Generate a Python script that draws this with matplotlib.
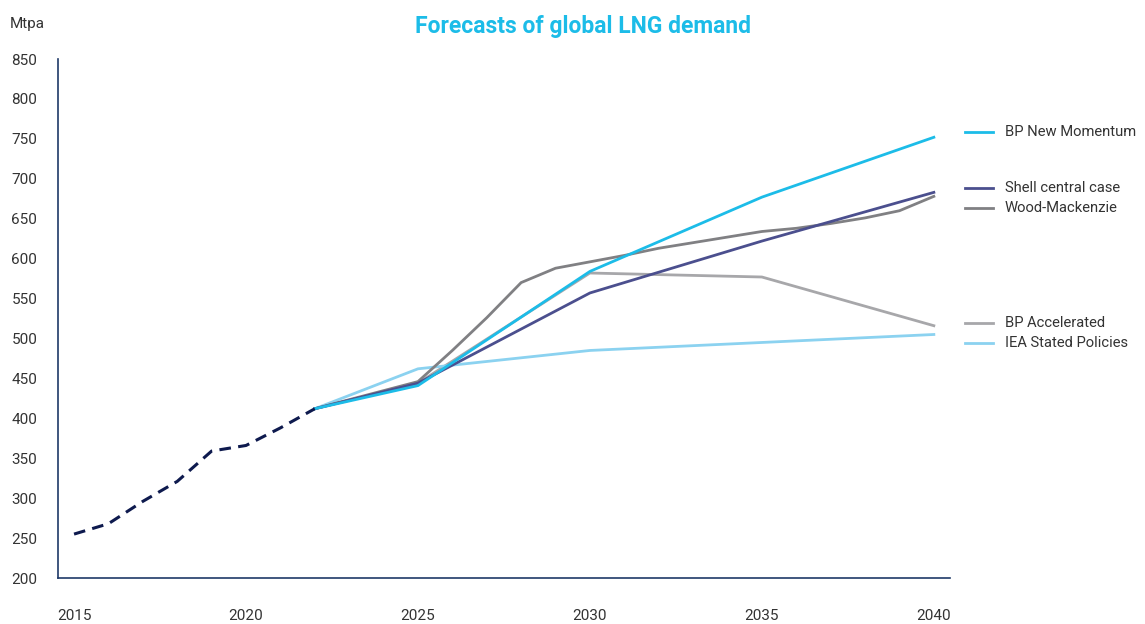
import numpy as np
import matplotlib.pyplot as plt
import matplotlib.transforms as mtransforms

plt.rcParams['font.family'] = ['Roboto', 'DejaVu Sans']

# historical demand (dashed)
hist_years = [2015, 2016, 2017, 2018, 2019, 2020, 2021, 2022]
hist_vals = [255, 268, 296, 321, 359, 366, 388, 412]

# forecasts
bp_nm_years = [2022, 2025, 2030, 2035, 2040]
bp_nm_vals = [412, 441, 584, 677, 752]

shell_years = [2022, 2025, 2030, 2035, 2040]
shell_vals = [412, 444, 557, 622, 683]

wm_years = [2022, 2025, 2026, 2027, 2028, 2029, 2030, 2031, 2032, 2033, 2034, 2035, 2036, 2037, 2038, 2039, 2040]
wm_vals = [412, 446, 485, 526, 570, 588, 596, 604, 613, 620, 627, 634, 638, 644, 651, 660, 678]

bp_acc_years = [2022, 2025, 2030, 2035, 2040]
bp_acc_vals = [412, 444, 582, 577, 516]

iea_years = [2022, 2025, 2030, 2035, 2040]
iea_vals = [412, 462, 485, 495, 505]

labels = ["BP New Momentum", "Shell central case", "Wood-Mackenzie", "BP Accelerated", "IEA Stated Policies"]
label_y = [758, 688, 664, 519, 494]
colors = ["#1CBCE8", "#4B4F8E", "#808083", "#A7A7AA", "#8BD2F0"]

fig = plt.figure(figsize=(11.45, 6.24), dpi=100)
ax = fig.add_axes([0.0507, 0.0737, 0.779, 0.8317])

series = [(bp_acc_years, bp_acc_vals), (iea_years, iea_vals), (wm_years, wm_vals),
          (shell_years, shell_vals), (bp_nm_years, bp_nm_vals)]
order = [3, 4, 2, 1, 0]
for (x, y), i in zip(series, order):
    ax.plot(x, y, color=colors[i], lw=2.0, solid_joinstyle='miter')

ax.plot(hist_years, hist_vals, color="#0E1A4E", lw=2.2, linestyle=(0, (3.8, 2.4)))

ax.set_xlim(2014.535, 2040.47)
ax.set_ylim(200, 850)
ax.set_xticks([2015, 2020, 2025, 2030, 2035, 2040])
ax.set_yticks(np.arange(200, 851, 50))
ax.tick_params(length=0, labelsize=11, labelcolor="#333333")
ax.tick_params(axis='y', pad=15)
ax.tick_params(axis='x', pad=22)
for s in ['top', 'right']:
    ax.spines[s].set_visible(False)
for s in ['left', 'bottom']:
    ax.spines[s].set_color("#1F3A68")
    ax.spines[s].set_linewidth(1.2)

# labels at the right
trans = mtransforms.blended_transform_factory(ax.transAxes, ax.transData)
for lab, yy, c in zip(labels, label_y, colors):
    ax.plot([1.017, 1.048], [yy, yy], color=c, lw=2.0, transform=trans, clip_on=False)
    ax.text(1.0617, yy, lab, transform=trans, va='center', ha='left', fontsize=10.6, color="#333333")

fig.text(0.0087, 0.962, "Mtpa", fontsize=11, color="#333333", va='center')
fig.text(0.509, 0.958, "Forecasts of global LNG demand", fontsize=16.5, fontweight='bold',
         color="#1CBCE8", ha='center', va='center')

fig.savefig("out.png", dpi=100)
